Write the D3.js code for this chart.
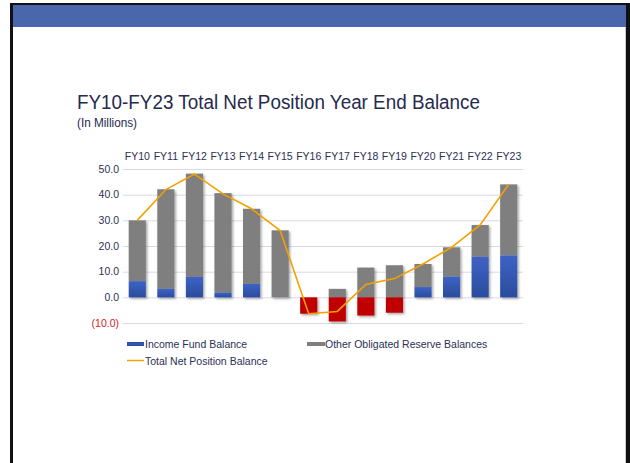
<!DOCTYPE html>
<html>
<head>
<meta charset="utf-8">
<script src="https://cdn.jsdelivr.net/npm/d3@7/dist/d3.min.js"></script>
<style>
  body { margin:0; background:#fff; }
  text { font-family: "Liberation Sans", Arial, sans-serif; }
</style>
</head>
<body>
<div id="chart-area"></div>
<script>
var years = ["FY10","FY11","FY12","FY13","FY14","FY15","FY16","FY17","FY18","FY19","FY20","FY21","FY22","FY23"];
var incomeFund = [6.3, 3.3, 8.0, 1.9, 5.2, 0, -6.4, -9.4, -7.1, -6.0, 4.0, 8.1, 15.8, 16.3];
var otherReserve = [23.7, 38.8, 40.2, 38.7, 29.3, 26.1, 0, 3.3, 11.6, 12.5, 9.0, 11.4, 12.4, 27.7];
var totalNet = [30.0, 42.0, 48.0, 40.3, 34.5, 26.0, -6.4, -5.5, 5.0, 7.3, 13.0, 19.5, 28.2, 44.0];
var yTicks = [50, 40, 30, 20, 10, 0, -10];

var svg = d3.select("#chart-area")
    .append("svg")
    .attr("width", 630)
    .attr("height", 463);

// slide frame + header band
svg.append("rect").attr("x",0).attr("y",0).attr("width",630).attr("height",463).attr("fill","#fff");
svg.append("rect").attr("x",10).attr("y",3).attr("width",620).attr("height",2).attr("fill","#111");
svg.append("rect").attr("x",10).attr("y",3).attr("width",3).attr("height",460).attr("fill","#111");
svg.append("rect").attr("x",626).attr("y",3).attr("width",4).attr("height",460).attr("fill","#111");
svg.append("rect").attr("x",625).attr("y",27).attr("width",1).attr("height",436).attr("fill","#ccc");
svg.append("rect").attr("x",13).attr("y",5).attr("width",613).attr("height",22).attr("fill","#4a67ae");

var defs = svg.append("defs");
var shadow = defs.append("filter").attr("id","shadow")
    .attr("x","-30%").attr("y","-10%").attr("width","160%").attr("height","130%");
shadow.append("feDropShadow")
    .attr("dx",1.5).attr("dy",1.5).attr("stdDeviation",1.2)
    .attr("flood-color","#000").attr("flood-opacity",0.35);

var blueGrad = defs.append("linearGradient").attr("id","blueGrad")
    .attr("x1",0).attr("y1",0).attr("x2",0).attr("y2",1);
blueGrad.append("stop").attr("offset","0%").attr("stop-color","#3d63c4");
blueGrad.append("stop").attr("offset","100%").attr("stop-color","#2a4c9e");

// titles
svg.append("text")
    .attr("x",77).attr("y",109)
    .attr("font-size","20px")
    .attr("fill","#262a4e")
    .attr("textLength",403).attr("lengthAdjust","spacingAndGlyphs")
    .text("FY10-FY23 Total Net Position Year End Balance");
svg.append("text")
    .attr("x",77).attr("y",127)
    .attr("font-size","12px")
    .attr("fill","#262a4e")
    .attr("textLength",60).attr("lengthAdjust","spacingAndGlyphs")
    .text("(In Millions)");

var x = d3.scaleBand()
    .domain(years)
    .range([123, 523])
    .paddingInner(0.4)
    .paddingOuter(0.2);
var y = d3.scaleLinear()
    .domain([-10, 50])
    .range([323, 169]);

// gridlines
svg.append("g").selectAll("line").data(yTicks)
  .enter().append("line")
    .attr("x1",123).attr("x2",523)
    .attr("y1",function(d){ return y(d) + 0.5; })
    .attr("y2",function(d){ return y(d) + 0.5; })
    .attr("stroke","#d8d8ea")
    .attr("stroke-width",1);

// y labels
svg.append("g").selectAll("text").data(yTicks)
  .enter().append("text")
    .attr("x",119)
    .attr("y",function(d){ return y(d) + 3.5; })
    .attr("text-anchor","end")
    .attr("font-size","10.5px")
    .attr("fill",function(d){ return d < 0 ? "#e02020" : "#2b2f55"; })
    .text(function(d){ return d < 0 ? "(" + d3.format(".1f")(-d) + ")" : d3.format(".1f")(d); });

// x labels at top
svg.append("g").selectAll("text").data(years)
  .enter().append("text")
    .attr("x",function(d){ return x(d) + x.bandwidth()/2; })
    .attr("y",160)
    .attr("text-anchor","middle")
    .attr("font-size","10.5px")
    .attr("fill","#2b2f55")
    .text(function(d){ return d; });

var bars = years.map(function(d,i){
  var inc = incomeFund[i], oth = otherReserve[i];
  var base = inc > 0 ? inc : 0;
  return { year:d, inc:inc, oth:oth, base:base };
});

var barG = svg.append("g").attr("filter","url(#shadow)");

// other obligated reserve (gray)
barG.selectAll(".other").data(bars)
  .enter().append("rect")
    .attr("class","other")
    .attr("x",function(d){ return x(d.year); })
    .attr("width",x.bandwidth())
    .attr("y",function(d){ return y(d.base + Math.max(d.oth,0)); })
    .attr("height",function(d){ return y(d.base) - y(d.base + Math.max(d.oth,0)); })
    .attr("fill","#7f7f7f");

// income fund (blue, red when negative)
barG.selectAll(".income").data(bars)
  .enter().append("rect")
    .attr("class","income")
    .attr("x",function(d){ return x(d.year); })
    .attr("width",x.bandwidth())
    .attr("y",function(d){ return y(Math.max(d.inc,0)); })
    .attr("height",function(d){ return Math.abs(y(d.inc) - y(0)); })
    .attr("fill",function(d){ return d.inc < 0 ? "#c00000" : "url(#blueGrad)"; });

// total net position line
var line = d3.line()
    .x(function(d,i){ return x(years[i]) + x.bandwidth()/2; })
    .y(function(d){ return y(d); });
svg.append("path")
    .datum(totalNet)
    .attr("d",line)
    .attr("fill","none")
    .attr("stroke","#f5a000")
    .attr("stroke-width",1.6);

// legend
var legend = svg.append("g");
legend.append("rect").attr("x",127).attr("y",342).attr("width",17).attr("height",4).attr("fill","#2f52a8");
legend.append("text").attr("x",145).attr("y",347.5).attr("font-size","10.5px").attr("fill","#2b2f55").text("Income Fund Balance");
legend.append("rect").attr("x",307).attr("y",342).attr("width",18).attr("height",4).attr("fill","#7f7f7f");
legend.append("text").attr("x",325).attr("y",347.5).attr("font-size","10.5px").attr("fill","#2b2f55").text("Other Obligated Reserve Balances");
legend.append("line").attr("x1",127).attr("x2",144).attr("y1",360.5).attr("y2",360.5).attr("stroke","#f5a000").attr("stroke-width",1.5);
legend.append("text").attr("x",145).attr("y",364.5).attr("font-size","10.5px").attr("fill","#2b2f55").text("Total Net Position Balance");
</script>
</body>
</html>
